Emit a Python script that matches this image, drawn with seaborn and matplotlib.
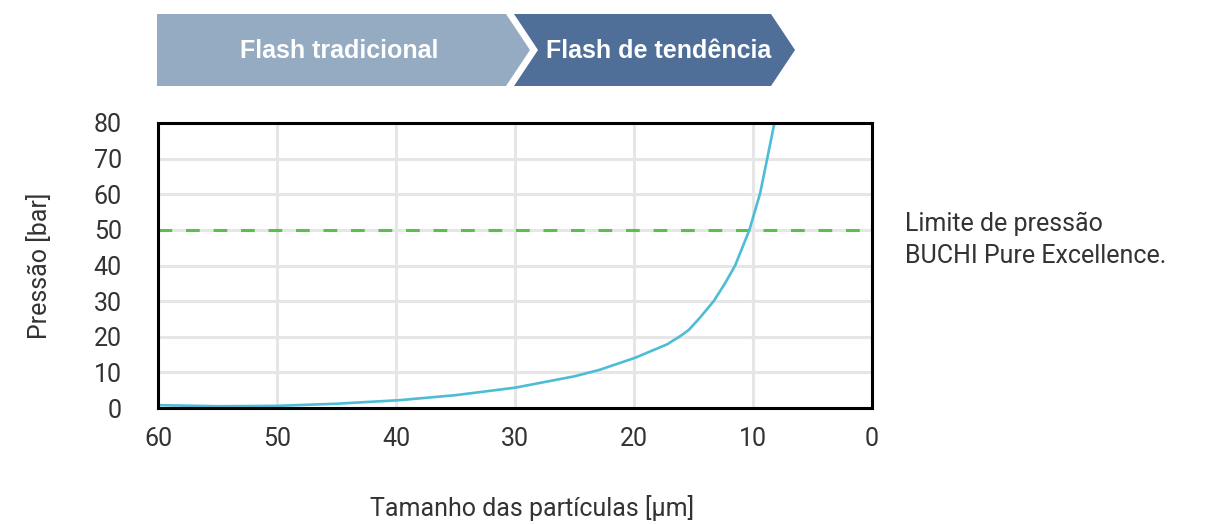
import numpy as np
import pandas as pd
import seaborn as sns
import matplotlib.pyplot as plt
from matplotlib.patches import Polygon

# particle size [um] vs pressure [bar]
particle_size = [60, 55, 50, 45, 39.7, 35, 30, 25, 22.9, 19.9, 17.2, 16.1, 15.4, 14.5,
                 13.3, 12.35, 11.5, 10.3, 9.4, 8.8, 8.2]
pressure = [0.8, 0.5, 0.6, 1.2, 2.2, 3.6, 5.7, 8.9, 10.7, 14.1, 17.9, 20.2, 21.9, 25.2,
            30.0, 35.0, 40.0, 50.0, 60.3, 70.1, 80.0]
pressure_limit = 50

x_ticks = [60, 50, 40, 30, 20, 10, 0]
y_ticks = [0, 10, 20, 30, 40, 50, 60, 70, 80]
stage_labels = ["Flash tradicional", "Flash de tendência"]
stage_colors = ["#95abc2", "#4f6f98"]
limit_text = "Limite de pressão\nBUCHI Pure Excellence."

df = pd.DataFrame({"size": particle_size, "pressure": pressure})

sns.set_style("whitegrid")
plt.rcParams['font.family'] = ['Roboto', 'DejaVu Sans']

W, H = 1214, 524
fig = plt.figure(figsize=(W / 100, H / 100), dpi=100)
ax = fig.add_axes([158 / W, 1 - 408 / H, (872 - 158) / W, (408 - 123) / H])

sns.lineplot(data=df, x="size", y="pressure", ax=ax, color="#4dbcd5", linewidth=1.9)
ax.axhline(pressure_limit, color="#5bbf4e", linewidth=2.2, linestyle=(0, (4.5, 4.5)), zorder=1)

txt_col = "#333333"
fs = 18
ax.set_xlim(60, 0)
ax.set_ylim(0, 80)
ax.set_xticks(x_ticks)
ax.set_yticks(y_ticks)
ax.grid(True, color="#e6e6e6", linewidth=2.2)
for s in ax.spines.values():
    s.set_color("black")
    s.set_linewidth(2.2)
    s.set_zorder(5)
ax.tick_params(axis="both", length=0, labelsize=fs, labelcolor=txt_col)
ax.tick_params(axis="x", pad=14)
ax.tick_params(axis="y", pad=26)
ax.set_xlabel("Tamanho das partículas [µm]", fontsize=fs, color=txt_col)
ax.set_ylabel("Pressão [bar]", fontsize=fs, color=txt_col)
ax.xaxis.set_label_coords((532 - 158) / 714, (408 - 508) / 285)
ax.xaxis.label.set_va("center")
ax.yaxis.set_label_coords((40 - 158) / 714, 0.5)
ax.yaxis.label.set_va("center")

fig.text(905 / W, 1 - 240 / H, limit_text, fontsize=fs, color=txt_col,
         va="center", ha="left", linespacing=1.45)

# banner of the two chevron stages, in pixel coordinates
bax = fig.add_axes([0, 0, 1, 1], zorder=-1)
bax.set_xlim(0, W)
bax.set_ylim(H, 0)
bax.axis("off")
top, bot, mid = 14, 86, 50
first = [(157, top), (506, top), (530, mid), (506, bot), (157, bot)]
second = [(514, top), (771, top), (795, mid), (771, bot), (514, bot), (538, mid)]
for pts, col, lab, cx in zip([first, second], stage_colors, stage_labels, [339, 659]):
    bax.add_patch(Polygon(pts, closed=True, facecolor=col, edgecolor="none"))
    bax.text(cx, mid + 1, lab, color="white", fontsize=18, fontweight="bold",
             ha="center", va="center", family=["Liberation Sans", "DejaVu Sans"])

fig.savefig("out.png", dpi=100, facecolor="white")
